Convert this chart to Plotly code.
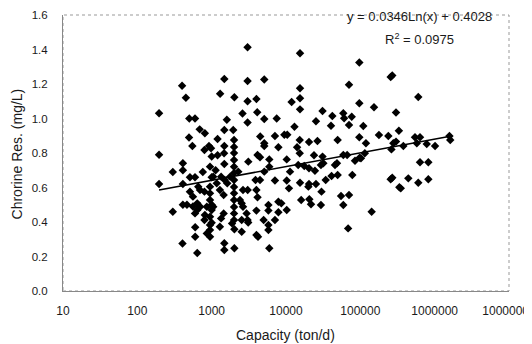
import plotly.graph_objects as go
import numpy as np

# Capacity (ton/d) and residual chlorine (mg/L)
capacity = [
    196, 196, 196, 400, 450, 500, 597, 410, 410, 300, 496, 550, 510, 597, 410, 300, 410, 465, 600, 405,
    600, 640, 510, 560, 660, 640, 640, 597, 560, 697, 690, 810,
    1480, 1300, 2020, 1600, 1480, 1950, 1200, 920, 980, 1480, 800, 1200, 1470, 950, 1130, 1480, 760, 1050,
    1340, 1500, 1620, 1770, 950, 1170, 800, 950, 950, 1450, 1290, 700, 860, 1000, 1450, 810, 800, 950,
    1000, 1050, 1340, 950, 950, 950, 860, 1290, 1880, 2020, 1480, 1480, 2020,
    2000, 2000, 2000, 2000, 2000, 2000, 2000, 2000, 2000, 2000, 2000, 2000, 2000,
    1000, 1000, 1000,
    2400, 2640, 2640, 2535, 2950, 2535, 3040, 3100, 2535, 2280, 3110,
    3040, 15440, 3040, 5100, 15440, 3040, 4000, 11900, 15440, 15440, 2600, 4100, 3040, 5100, 7500, 13000,
    4500, 7100, 9500, 10400, 5100, 5100, 7900, 15300, 14100, 4140, 4470, 5960, 10230, 14600, 17600, 5100,
    5960, 11330, 3890, 4470, 7100, 10230, 4000, 3050, 10960, 4140, 5800, 7900, 8650, 4000, 5800, 7900,
    10230, 5000, 7100, 5800, 4000, 4200, 5800, 5960,
    96900, 70400, 96900, 25300, 31000, 42000, 59000, 60500, 76600, 70400, 40300, 109600, 20400, 26500,
    49500, 96900, 15300, 23800, 31000, 59000, 66500, 84800, 115000, 20400, 24500, 29500, 31800, 45600,
    48500, 15440, 20400, 25300, 34200, 41000, 49500, 78000, 20000, 30000, 55000, 70400, 16000, 21700,
    29500, 59000, 68500, 20600,
    256000, 269000, 602000, 152700, 302000, 330000, 178000, 238000, 119000, 278000, 302000, 262000,
    379000, 544000, 635000, 575000, 782000, 1012000, 1580000, 1620000, 98000, 102000, 635000, 822000,
    256000, 269000, 335000, 350000, 442000, 602000, 822000, 142000,
]
chlorine = [
    1.03, 0.79, 0.62, 1.19, 1.12, 1.00, 1.00, 0.74, 0.70, 0.69, 0.89, 0.84, 0.66, 0.66, 0.62, 0.46, 0.50, 0.50, 0.37, 0.275,
    0.315, 0.22, 0.575, 0.547, 0.605, 0.508, 0.47, 0.45, 0.49, 0.586, 0.937, 0.914,
    1.229, 1.144, 1.123, 0.993, 0.933, 0.933, 0.881, 0.84, 0.827, 0.84, 0.817, 0.787, 0.798, 0.721, 0.70, 0.736, 0.69, 0.663,
    0.663, 0.643, 0.624, 0.663, 0.605, 0.624, 0.576, 0.566, 0.528, 0.557, 0.586, 0.489, 0.489, 0.47, 0.45, 0.441, 0.412, 0.431,
    0.396, 0.489, 0.421, 0.383, 0.354, 0.315, 0.334, 0.373, 0.392, 0.358, 0.277, 0.238, 0.248,
    0.875, 0.835, 0.80, 0.76, 0.72, 0.684, 0.643, 0.603, 0.567, 0.528, 0.487, 0.45, 0.412,
    0.78, 0.66, 0.50,
    0.528, 0.489, 0.586, 0.508, 0.45, 0.412, 0.412, 0.397, 0.344, 0.692, 0.75,
    1.413, 1.378, 1.217, 1.226, 1.175, 1.10, 1.113, 1.096, 1.117, 1.053, 1.029, 1.036, 0.977, 0.997, 1.0, 0.952,
    0.896, 0.899, 0.906, 0.906, 0.856, 0.84, 0.833, 0.875, 0.833, 0.788, 0.775, 0.763, 0.763, 0.73, 0.725, 0.692,
    0.721, 0.692, 0.643, 0.643, 0.64, 0.64, 0.586, 0.586, 0.595, 0.543, 0.499, 0.518, 0.508, 0.466, 0.466, 0.456,
    0.47, 0.412, 0.412, 0.383, 0.325, 0.315, 0.354, 0.248,
    1.325, 1.196, 1.088, 0.984, 1.043, 1.014, 1.03, 1.001, 1.01, 0.962, 0.958, 0.957, 0.864, 0.87,
    0.875, 0.891, 0.798, 0.787, 0.779, 0.788, 0.788, 0.755, 0.798, 0.711, 0.697, 0.73, 0.74, 0.73,
    0.74, 0.628, 0.62, 0.62, 0.643, 0.667, 0.672, 0.672, 0.605, 0.576, 0.551, 0.557, 0.528, 0.503,
    0.499, 0.499, 0.363, 0.532,
    1.24, 1.25, 1.125, 1.065, 1.035, 0.929, 0.904, 0.899, 0.856, 0.856, 0.866, 0.821,
    0.841, 0.891, 0.891, 0.856, 0.852, 0.841, 0.899, 0.875, 0.773, 0.769, 0.746, 0.746,
    0.648, 0.657, 0.601, 0.595, 0.653, 0.628, 0.648, 0.46,
]

# Logarithmic trendline y = a*ln(x) + b
trend_a = 0.0346
trend_b = 0.4028

x_tick_vals = [10, 100, 1000, 10000, 100000, 1000000, 10000000]
x_tick_text = ["10", "100", "1000", "10000", "100000", "1000000", "10000000"]
y_tick_vals = [0.0, 0.2, 0.4, 0.6, 0.8, 1.0, 1.2, 1.4, 1.6]

FONT = "Arial, Liberation Sans, sans-serif"

trend_x = np.logspace(np.log10(min(capacity)), np.log10(max(capacity)), 60)
trend_y = trend_a * np.log(trend_x) + trend_b

fig = go.Figure()
fig.add_trace(go.Scatter(
    x=capacity, y=chlorine, mode="markers",
    marker=dict(symbol="diamond", size=6.5, color="black", line=dict(width=0)),
    showlegend=False, cliponaxis=False,
))
fig.add_trace(go.Scatter(
    x=trend_x, y=trend_y, mode="lines",
    line=dict(color="black", width=1.6), showlegend=False,
))

# the page body adds an 8px offset, so the figure is 8px smaller to keep the plot area in place
fig.update_layout(
    template="none",
    width=524, height=336,
    margin=dict(l=55, r=23, t=7, b=53, autoexpand=False),
    paper_bgcolor="white", plot_bgcolor="white",
    font=dict(family=FONT, color="#1a1a1a"),
    xaxis=dict(
        type="log", range=[1, 7], automargin=False,
        tickvals=x_tick_vals, ticktext=x_tick_text,
        tickfont=dict(size=12), ticks="", ticklabelstandoff=9,
        ticklabeloverflow="allow",
        showgrid=False, zeroline=False,
        showline=True, linecolor="#888888", linewidth=1,
    ),
    yaxis=dict(
        range=[0, 1.6], automargin=False,
        tickvals=y_tick_vals, tickformat=".1f",
        tickfont=dict(size=11.5), ticks="", ticklabelstandoff=12,
        ticklabeloverflow="allow",
        showgrid=False, zeroline=False,
        showline=True, linecolor="#888888", linewidth=1,
    ),
    shapes=[dict(
        type="rect", xref="paper", yref="paper", x0=0, y0=0, x1=1, y1=1,
        line=dict(color="#999999", width=1, dash="dot"), layer="below",
    )],
    annotations=[
        dict(text="y = 0.0346Ln(x) + 0.4028", xref="paper", yref="paper",
             x=0.80, y=0.996, showarrow=False, font=dict(size=13, family=FONT),
             xanchor="center", yanchor="middle"),
        dict(text="R<sup>2</sup> = 0.0975", xref="paper", yref="paper",
             x=0.80, y=0.913, showarrow=False, font=dict(size=13, family=FONT),
             xanchor="center", yanchor="middle"),
        dict(text="Chrorine Res. (mg/L)", xref="paper", yref="paper",
             x=-0.103, y=0.495, showarrow=False, textangle=-90,
             font=dict(size=14, family=FONT), xanchor="center", yanchor="middle"),
        dict(text="Capacity (ton/d)", xref="paper", yref="paper",
             x=0.498, y=-0.159, showarrow=False,
             font=dict(size=14, family=FONT), xanchor="center", yanchor="middle"),
    ],
)

fig.write_html("out.html")
